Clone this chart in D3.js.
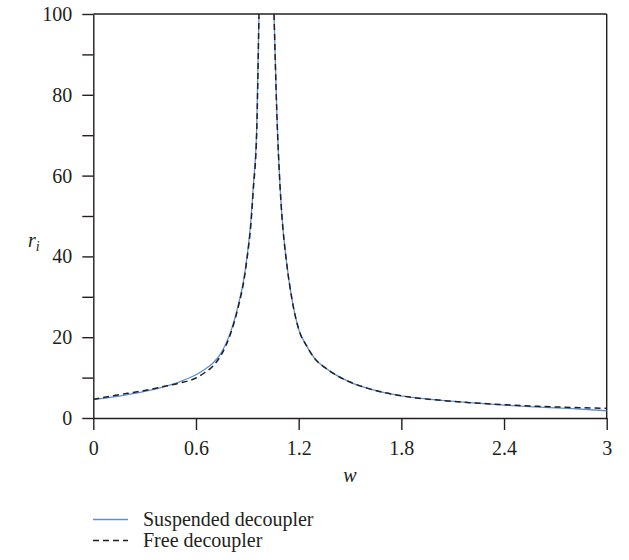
<!DOCTYPE html>
<html>
<head>
<meta charset="utf-8">
<script src="https://cdn.jsdelivr.net/npm/d3@7"></script>
<style>
  body { margin: 0; background: #fff; }
  text { font-family: 'Liberation Serif', 'DejaVu Serif', serif; fill: #231f20; }
</style>
</head>
<body>
<div id="chart"></div>
<script>
// frequency ratio w, two branches either side of the resonance
var wLeft = [0, 0.1, 0.2, 0.3, 0.4, 0.5, 0.6, 0.65, 0.7, 0.75, 0.8, 0.85, 0.88, 0.9, 0.92, 0.935, 0.955, 0.968]
var wRight = [1.056, 1.072, 1.091, 1.101, 1.13, 1.16, 1.2, 1.25, 1.3, 1.35, 1.4, 1.5, 1.6, 1.7, 1.8, 1.9, 2.0, 2.2, 2.4, 2.6, 2.8, 3.0]

// r_i for suspended decoupler
var suspendedLeft = [4.6, 5.1, 5.8, 6.6, 7.6, 8.9, 10.7, 12.0, 13.6, 16.3, 21, 28.5, 34.5, 40.5, 48.5, 57.5, 72, 99.3]
var suspendedRight = [100, 76, 57.5, 50.7, 38.3, 29.6, 22.0, 17.6, 14.4, 12.6, 11.1, 8.9, 7.4, 6.3, 5.5, 4.9, 4.5, 3.8, 3.2, 2.7, 2.3, 1.8]

// r_i for free decoupler
var freeLeft = [4.6, 5.4, 6.1, 6.8, 7.7, 8.6, 9.9, 11.2, 12.9, 15.8, 20.6, 28, 34, 40, 47.5, 56.5, 71, 100]
var freeRight = [100, 76, 57.5, 50.7, 38.3, 29.6, 22.0, 17.6, 14.4, 12.6, 11.1, 8.9, 7.4, 6.3, 5.5, 4.9, 4.5, 3.8, 3.3, 2.9, 2.6, 2.4]

var xTicks = [0, 0.6, 1.2, 1.8, 2.4, 3]
var yTicks = [0, 20, 40, 60, 80, 100]
var yMinor = [10, 30, 50, 70, 90]

var width = 629
var height = 560
var plot = { left: 93.3, right: 606.7, top: 14, bottom: 418 }

var svg = d3
  .select('#chart')
  .append('svg')
  .attr('width', width)
  .attr('height', height)

var x = d3.scaleLinear().domain([0, 3]).range([plot.left, plot.right])
var y = d3.scaleLinear().domain([0, 100]).range([plot.bottom, plot.top])

// clip curves to the plot box
svg.append('clipPath').attr('id', 'clip')
  .append('rect')
  .attr('x', plot.left).attr('y', plot.top)
  .attr('width', plot.right - plot.left).attr('height', plot.bottom - plot.top)

// axes
var xAxis = svg.append('g')
  .attr('transform', 'translate(0,' + plot.bottom + ')')
  .call(d3.axisBottom(x).tickValues(xTicks).tickSize(12).tickSizeOuter(0).tickPadding(8)
    .tickFormat(d => d))
var yAxis = svg.append('g')
  .attr('transform', 'translate(' + plot.left + ',0)')
  .call(d3.axisLeft(y).tickValues(yTicks).tickSize(11).tickSizeOuter(0).tickPadding(10))
svg.append('g')
  .attr('transform', 'translate(' + plot.left + ',0)')
  .call(d3.axisLeft(y).tickValues(yMinor).tickSize(11).tickSizeOuter(0).tickFormat(''))
  .select('.domain').remove()

svg.selectAll('.domain, .tick line').attr('stroke', '#231f20').attr('stroke-width', 1.4)
svg.selectAll('.tick text').attr('font-size', 20).attr('font-family', "'Liberation Serif', serif").attr('fill', '#231f20')
xAxis.selectAll('.tick text').attr('dy', '0.85em')

// top and right frame
svg.append('line')
  .attr('x1', plot.left).attr('x2', plot.right)
  .attr('y1', plot.top).attr('y2', plot.top)
  .attr('stroke', '#231f20').attr('stroke-width', 1.4)
svg.append('line')
  .attr('x1', plot.right).attr('x2', plot.right)
  .attr('y1', plot.top).attr('y2', plot.bottom)
  .attr('stroke', '#231f20').attr('stroke-width', 1.4)

// build series with a break at the resonance
function series(wl, vl, wr, vr) {
  var pts = wl.map((w, i) => [w, vl[i]])
  pts.push(null)
  return pts.concat(wr.map((w, i) => [w, vr[i]]))
}

var line = d3.line()
  .defined(d => d !== null)
  .x(d => x(d[0]))
  .y(d => y(d[1]))
  .curve(d3.curveMonotoneX)

var curves = svg.append('g').attr('clip-path', 'url(#clip)')
curves.append('path')
  .datum(series(wLeft, suspendedLeft, wRight, suspendedRight))
  .attr('d', line)
  .attr('fill', 'none')
  .attr('stroke', '#5b8fd8')
  .attr('stroke-width', 1.3)
curves.append('path')
  .datum(series(wLeft, freeLeft, wRight, freeRight))
  .attr('d', line)
  .attr('fill', 'none')
  .attr('stroke', '#231f20')
  .attr('stroke-width', 1.5)
  .attr('stroke-dasharray', '6,4')

// axis titles
svg.append('text')
  .attr('x', (plot.left + plot.right) / 2)
  .attr('y', 482)
  .attr('text-anchor', 'middle')
  .attr('font-size', 20)
  .attr('font-style', 'italic')
  .text('w')
var yl = svg.append('text')
  .attr('x', 28)
  .attr('y', 247)
  .attr('font-size', 20)
  .attr('font-style', 'italic')
yl.append('tspan').text('r')
yl.append('tspan').attr('font-size', 14).attr('dy', 4).text('i')

// legend
var legend = [
  { label: 'Suspended decoupler', color: '#5b8fd8', dash: null, w: 1.3 },
  { label: 'Free decoupler', color: '#231f20', dash: '6,4', w: 1.5 }
]
legend.forEach((d, i) => {
  var ly = 519.5 + i * 21
  svg.append('line')
    .attr('x1', 93).attr('x2', 128)
    .attr('y1', ly).attr('y2', ly)
    .attr('stroke', d.color)
    .attr('stroke-width', d.w)
    .attr('stroke-dasharray', d.dash)
  svg.append('text')
    .attr('x', 143)
    .attr('y', ly + 6.5)
    .attr('font-size', 20)
    .text(d.label)
})
</script>
</body>
</html>
